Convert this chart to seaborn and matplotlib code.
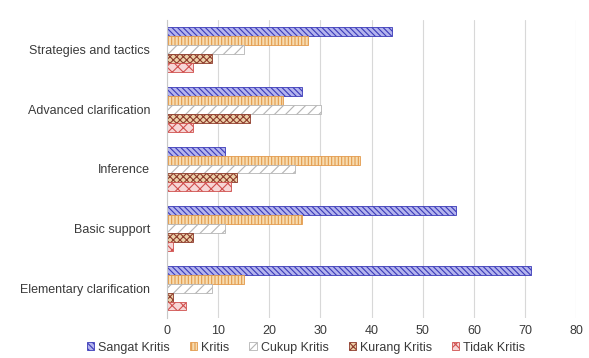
import matplotlib
matplotlib.use("Agg")
import matplotlib.pyplot as plt
from matplotlib.patches import Patch
import seaborn as sns
import pandas as pd

categories = ["Strategies and tactics", "Advanced clarification", "Inference",
              "Basic support", "Elementary clarification"]
levels = ["Sangat Kritis", "Kritis", "Cukup Kritis", "Kurang Kritis", "Tidak Kritis"]

sangat = [44.0, 26.4, 11.3, 56.4, 71.2]
kritis = [27.6, 22.7, 37.8, 26.4, 15.0]
cukup = [15.0, 30.1, 25.0, 11.3, 8.8]
kurang = [8.8, 16.2, 13.7, 5.0, 1.2]
tidak = [5.0, 5.0, 12.5, 1.2, 3.8]

styles = {
    "Sangat Kritis": ("#b4b4ee", "#3a3ab8", "\\\\\\\\\\\\"),
    "Kritis": ("#f7dcb0", "#e39a4c", "|||||"),
    "Cukup Kritis": ("#ffffff", "#b4b4b4", "///"),
    "Kurang Kritis": ("#ecd0a8", "#8e3b2c", "xxxxx"),
    "Tidak Kritis": ("#f7d6d6", "#d0504e", "xxx"),
}

rows = []
for lvl, vals in zip(levels, [sangat, kritis, cukup, kurang, tidak]):
    for cat, v in zip(categories, vals):
        rows.append({"cat": cat, "level": lvl, "value": v})
df = pd.DataFrame(rows)

sns.set_style("white")
plt.rcParams["font.family"] = ["Liberation Sans", "DejaVu Sans"]
plt.rcParams["hatch.linewidth"] = 0.8

fig = plt.figure(figsize=(5.89, 3.58), dpi=100)
ax = fig.add_axes([0.2835, 0.112, 0.695, 0.832])

sns.barplot(data=df, y="cat", x="value", hue="level", order=categories,
            hue_order=levels, orient="h", width=0.75, ax=ax, legend=False)

for lvl, cont in zip(levels, ax.containers):
    face, edge, hatch = styles[lvl]
    for bar in cont:
        bar.set_facecolor(face)
        bar.set_edgecolor(edge)
        bar.set_hatch(hatch)
        bar.set_linewidth(0.6)

ax.set_xlim(0, 80)
ax.set_xticks(range(0, 81, 10))
ax.xaxis.grid(True, color="#d8d8d8", linewidth=0.8)
ax.set_axisbelow(True)
for s in ["top", "right", "bottom"]:
    ax.spines[s].set_visible(False)
ax.spines["left"].set_color("#c8c8c8")
ax.set_xlabel("")
ax.set_ylabel("")
ax.tick_params(axis="both", labelsize=9, colors="#3a3a3a", length=0)
ax.tick_params(axis="y", pad=12)
ax.tick_params(axis="x", pad=5)

handles = [Patch(facecolor=styles[l][0], edgecolor=styles[l][1], hatch=styles[l][2],
                 linewidth=0.6) for l in levels]
ax.legend(handles, levels, loc="center", bbox_to_anchor=(0.34, -0.1), ncol=5,
          frameon=False, fontsize=9, handlelength=0.6, handleheight=0.6,
          handletextpad=0.3, columnspacing=1.6, labelcolor="#3a3a3a",
          borderaxespad=0, borderpad=0)

fig.savefig("out.png", dpi=100, facecolor="white")
